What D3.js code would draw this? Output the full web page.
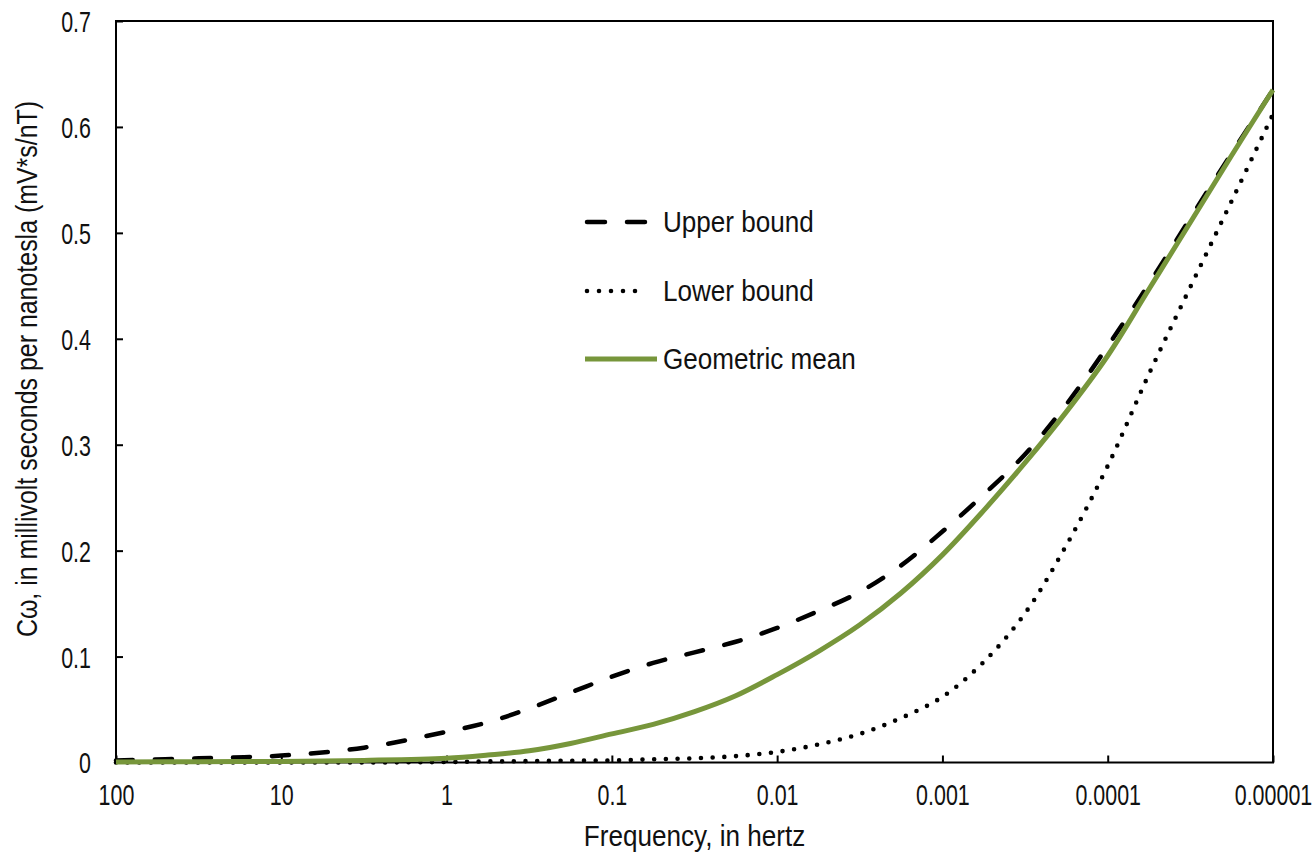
<!DOCTYPE html>
<html>
<head>
<meta charset="utf-8">
<script src="https://cdn.jsdelivr.net/npm/d3@7"></script>
<style>
  html, body { margin: 0; padding: 0; background: #fff; }
  svg { display: block; }
</style>
</head>
<body>
<svg id="chart" width="1315" height="857"></svg>
<script>
// ---- data ----
const frequencies = [100, 31.6, 10, 3.16, 1, 0.562, 0.316, 0.178, 0.1, 0.0562, 0.0316, 0.0178,
  0.01, 0.00562, 0.00316, 0.00178, 0.001, 0.000562, 0.000316, 0.000178, 0.0001,
  0.0000562, 0.0000316, 0.0000178, 0.00001];
const upperBound = [0.002, 0.004, 0.0065, 0.014, 0.029, 0.038, 0.051, 0.066, 0.081, 0.094, 0.104, 0.114,
  0.127, 0.143, 0.161, 0.186, 0.218, 0.253, 0.291, 0.338, 0.393, 0.452, 0.514, 0.575, 0.635];
const lowerBound = [0, 0, 0, 0, 0.0005, 0.001, 0.0013, 0.0017, 0.002, 0.003, 0.004, 0.006,
  0.010, 0.017, 0.027, 0.042, 0.062, 0.095, 0.141, 0.205, 0.280, 0.367, 0.449, 0.530, 0.612];
const geometricMean = [0.0005, 0.0008, 0.001, 0.002, 0.004, 0.007, 0.011, 0.018, 0.027, 0.036, 0.048, 0.063,
  0.083, 0.105, 0.130, 0.160, 0.196, 0.238, 0.283, 0.331, 0.384, 0.447, 0.510, 0.573, 0.635];
const xTickValues = [100, 10, 1, 0.1, 0.01, 0.001, 0.0001, 0.00001];
const xTickLabels = ["100", "10", "1", "0.1", "0.01", "0.001", "0.0001", "0.00001"];
const yTickValues = [0, 0.1, 0.2, 0.3, 0.4, 0.5, 0.6, 0.7];
const yTickLabels = ["0", "0.1", "0.2", "0.3", "0.4", "0.5", "0.6", "0.7"];
const seriesNames = ["Upper bound", "Lower bound", "Geometric mean"];
const xTitle = "Frequency, in hertz";
const yTitle = "Cω, in millivolt seconds per nanotesla (mV*s/nT)";

(function () {
// ---- layout ----
const svg = d3.select("#chart");
const pL = 116, pR = 1273, pT = 21, pB = 762.5;
const GREEN = "#77963b";
const FONT = "'Liberation Sans', Arial, sans-serif";
const SX = 0.9;    // horizontal text compression seen in the reference
const SXN = 0.74;  // narrow tick-label compression

const x = d3.scaleLog().domain([100, 0.00001]).range([pL, pR]);
const y = d3.scaleLinear().domain([0, 0.7]).range([pB, pT]);

const styles = [
  { stroke: "#000", width: 4.5, dash: "17 22", cap: "round" },
  { stroke: "#000", width: 4.6, dash: "0 11.7", cap: "round" },
  { stroke: GREEN, width: 5, dash: null, cap: "butt" }
];
const seriesValues = [upperBound, lowerBound, geometricMean];

// frame
svg.append("rect")
  .attr("x", pL).attr("y", pT)
  .attr("width", pR - pL).attr("height", pB - pT)
  .attr("fill", "none").attr("stroke", "#000").attr("stroke-width", 2);

// axes
const xAxis = d3.axisBottom(x)
  .tickValues(xTickValues)
  .tickFormat((d, i) => xTickLabels[i])
  .tickSizeInner(-7).tickSizeOuter(0);
const gx = svg.append("g").attr("transform", `translate(0,${pB})`).call(xAxis);
gx.select(".domain").remove();
gx.selectAll(".tick line").attr("stroke", "#000").attr("stroke-width", 2);
gx.selectAll(".tick text")
  .attr("y", 43).attr("dy", 0)
  .attr("transform", `scale(${SXN},1)`)
  .attr("fill", "#111")
  .style("font-family", FONT).style("font-size", "29px");

const yAxis = d3.axisLeft(y)
  .tickValues(yTickValues)
  .tickFormat((d, i) => yTickLabels[i])
  .tickSizeInner(-7).tickSizeOuter(0);
const gy = svg.append("g").attr("transform", `translate(${pL},0)`).call(yAxis);
gy.select(".domain").remove();
gy.selectAll(".tick line").attr("stroke", "#000").attr("stroke-width", 2);
gy.selectAll(".tick text")
  .attr("x", -25 / SXN).attr("dy", "0.36em")
  .attr("transform", `scale(${SXN},1)`)
  .attr("fill", "#111")
  .style("font-family", FONT).style("font-size", "29px");

// lines
const line = d3.line()
  .x(d => x(d[0]))
  .y(d => y(d[1]))
  .curve(d3.curveCatmullRom.alpha(0.5));

seriesValues.forEach((vals, i) => {
  const pts = frequencies.map((f, j) => [f, vals[j]]);
  const p = svg.append("path")
    .attr("d", line(pts))
    .attr("fill", "none")
    .attr("stroke", styles[i].stroke)
    .attr("stroke-width", styles[i].width)
    .attr("stroke-linecap", styles[i].cap)
    .attr("stroke-linejoin", "round");
  if (styles[i].dash) p.attr("stroke-dasharray", styles[i].dash);
});

// legend
const legendRows = [222, 291, 359];
const leg = svg.append("g");
seriesNames.forEach((name, i) => {
  const g = leg.append("g").attr("transform", `translate(0,${legendRows[i]})`);
  const l = g.append("line")
    .attr("x1", i === 2 ? 585 : 587).attr("x2", i === 2 ? 657 : 647)
    .attr("y1", 0).attr("y2", 0)
    .attr("stroke", styles[i].stroke)
    .attr("stroke-width", styles[i].width)
    .attr("stroke-linecap", styles[i].cap);
  if (i === 0) l.attr("stroke-dasharray", "18 22");
  if (i === 1) l.attr("stroke-dasharray", "0 12");
  g.append("text")
    .attr("transform", `translate(663,0) scale(${SX},1)`)
    .attr("dy", "0.35em")
    .attr("fill", "#111")
    .style("font-family", FONT).style("font-size", "29px")
    .text(name);
});

// axis titles
svg.append("text")
  .attr("transform", `translate(${(pL + pR) / 2},846) scale(${SX},1)`)
  .attr("text-anchor", "middle")
  .attr("fill", "#111")
  .style("font-family", FONT).style("font-size", "29px")
  .text(xTitle);

svg.append("text")
  .attr("transform", `translate(37,369) rotate(-90) scale(0.86,1)`)
  .attr("text-anchor", "middle")
  .attr("fill", "#111")
  .style("font-family", FONT).style("font-size", "29px")
  .text(yTitle);
})();
</script>
</body>
</html>
